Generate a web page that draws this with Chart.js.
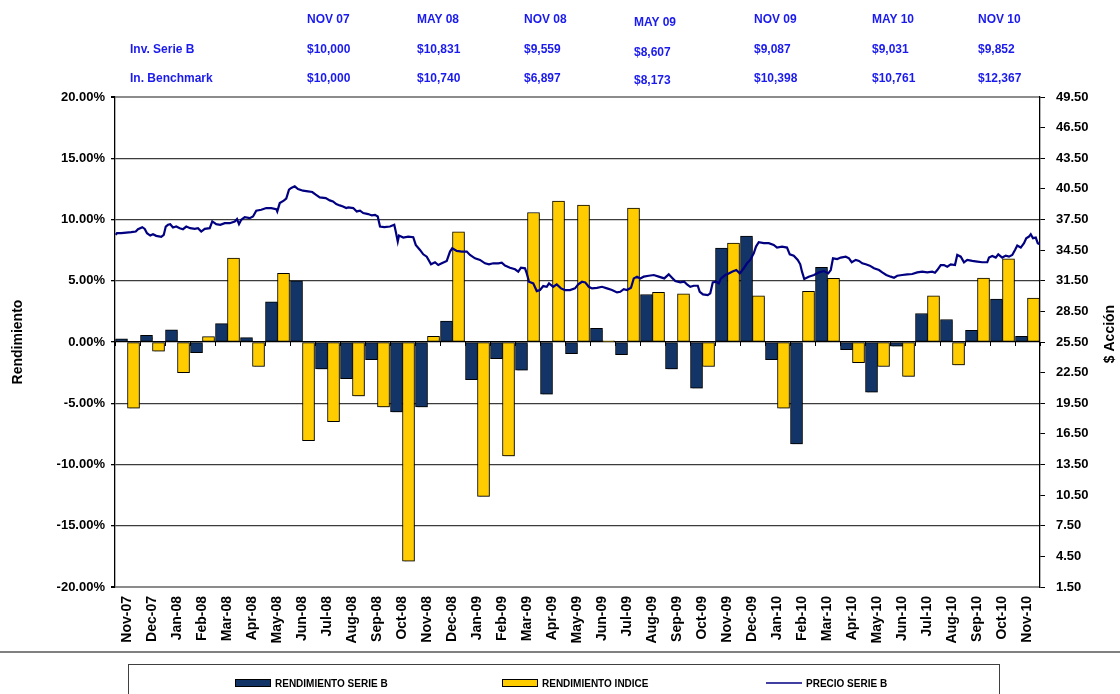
<!DOCTYPE html>
<html>
<head>
<meta charset="utf-8">
<script src="https://cdn.jsdelivr.net/npm/chart.js@4.4.1/dist/chart.umd.min.js"></script>
<style>
  html, body { margin: 0; padding: 0; background: #fff; }
  #wrap { position: relative; width: 1120px; height: 694px; }
  #table div { position: absolute; font: bold 12px "Liberation Sans", Arial, sans-serif; color: #1a1aee; white-space: nowrap; }
</style>
</head>
<body>
<div id="wrap">
  <canvas id="chart" width="1120" height="694"></canvas>
  <div id="table"></div>
</div>
<script>
const months = ["Nov-07", "Dec-07", "Jan-08", "Feb-08", "Mar-08", "Apr-08", "May-08", "Jun-08", "Jul-08", "Aug-08",
  "Sep-08", "Oct-08", "Nov-08", "Dec-08", "Jan-09", "Feb-09", "Mar-09", "Apr-09", "May-09", "Jun-09",
  "Jul-09", "Aug-09", "Sep-09", "Oct-09", "Nov-09", "Dec-09", "Jan-10", "Feb-10", "Mar-10", "Apr-10",
  "May-10", "Jun-10", "Jul-10", "Aug-10", "Sep-10", "Oct-10", "Nov-10"];

// monthly returns, %
const serieB = [0.25, 0.55, 1.0, -0.87, 1.5, 0.36, 3.28, 5.0, -2.2, -3.0,
  -1.44, -5.7, -5.3, 1.7, -3.08, -1.36, -2.3, -4.26, -0.95, 1.12,
  -1.03, 3.88, -2.2, -3.77, 7.66, 8.64, -1.44, -8.33, 6.1, -0.62,
  -4.1, -0.35, 2.33, 1.84, 0.96, 3.5, 0.47];
const indice = [-5.4, -0.74, -2.5, 0.44, 6.86, -2.0, 5.6, -8.06, -6.5, -4.4,
  -5.3, -17.9, 0.47, 9.0, -12.6, -9.3, 10.57, 11.5, 11.18, 0.1,
  10.93, 4.05, 3.93, -2.0, 8.07, 3.77, -5.4, 4.13, 5.2, -1.69,
  -2.0, -2.8, 3.77, -1.88, 5.22, 6.78, 3.58];

// share price, time in months from start of Nov-07
const priceT = [0.03, 0.08, 0.25, 0.45, 0.65, 0.83, 0.92, 1.09, 1.19, 1.28, 1.41, 1.52, 1.65, 1.85, 1.95, 2.03, 2.12, 2.21, 2.32, 2.45,
  2.59, 2.72, 2.85, 3.01, 3.19, 3.32, 3.45, 3.59, 3.79, 3.89, 4.05, 4.21, 4.39, 4.59, 4.79, 4.88, 4.96, 5.05, 5.19, 5.39,
  5.52, 5.65, 5.85, 6.05, 6.25, 6.45, 6.49, 6.59, 6.75, 6.85, 6.96, 7.05, 7.19, 7.32, 7.52, 7.72, 7.89, 8.03, 8.19, 8.43,
  8.59, 8.72, 8.85, 8.99, 9.12, 9.25, 9.33, 9.53, 9.67, 9.8, 9.93, 10.13, 10.27, 10.4, 10.51, 10.6, 10.77, 11.0, 11.17, 11.23,
  11.31, 11.36, 11.53, 11.73, 11.93, 12.03, 12.2, 12.33, 12.47, 12.64, 12.8, 12.93, 13.07, 13.27, 13.4, 13.49, 13.67, 13.87, 14.07, 14.2,
  14.4, 14.6, 14.8, 14.96, 15.13, 15.33, 15.47, 15.6, 15.8, 16.0, 16.13, 16.24, 16.4, 16.47, 16.56, 16.73, 16.87, 17.0, 17.13, 17.27,
  17.36, 17.53, 17.67, 17.84, 18.0, 18.2, 18.4, 18.53, 18.68, 18.81, 18.95, 19.08, 19.28, 19.48, 19.68, 19.88, 20.08, 20.21, 20.35, 20.48,
  20.64, 20.75, 20.88, 21.01, 21.15, 21.35, 21.55, 21.75, 21.97, 22.15, 22.28, 22.41, 22.61, 22.77, 22.88, 23.01, 23.15, 23.31, 23.39, 23.52,
  23.71, 23.81, 23.91, 24.05, 24.15, 24.24, 24.41, 24.55, 24.68, 24.85, 24.99, 25.15, 25.28, 25.41, 25.55, 25.64, 25.75, 25.95, 26.15, 26.35,
  26.48, 26.68, 26.88, 26.99, 27.15, 27.31, 27.41, 27.48, 27.57, 27.75, 27.96, 28.16, 28.36, 28.53, 28.63, 28.72, 28.89, 29.03, 29.23, 29.36,
  29.47, 29.63, 29.76, 29.89, 30.03, 30.19, 30.36, 30.56, 30.69, 30.85, 31.03, 31.16, 31.29, 31.49, 31.69, 31.89, 32.09, 32.29, 32.49, 32.69,
  32.8, 32.89, 33.03, 33.16, 33.29, 33.43, 33.6, 33.69, 33.83, 33.96, 34.09, 34.29, 34.49, 34.69, 34.89, 34.96, 35.09, 35.23, 35.33, 35.49,
  35.63, 35.76, 35.89, 36.0, 36.09, 36.23, 36.36, 36.45, 36.56, 36.63, 36.72, 36.83, 36.91, 36.99];
const priceV = [35.99, 36.16, 36.16, 36.22, 36.26, 36.32, 36.55, 36.75, 36.58, 36.16, 35.93, 36.06, 35.90, 35.80, 35.99, 36.81, 36.98, 37.04, 36.72, 36.81,
  36.65, 36.55, 36.81, 36.65, 36.58, 36.65, 36.32, 36.58, 36.65, 37.31, 37.04, 36.98, 37.14, 37.14, 37.31, 37.54, 37.04, 37.47, 37.73, 37.63,
  37.80, 38.36, 38.45, 38.62, 38.62, 38.52, 38.29, 39.11, 39.34, 39.54, 40.42, 40.59, 40.75, 40.49, 40.32, 40.26, 40.19, 39.93, 39.67, 39.60,
  39.37, 39.27, 39.01, 38.88, 38.78, 38.62, 38.68, 38.62, 38.29, 38.36, 38.13, 38.03, 37.90, 37.96, 37.80, 36.81, 36.75, 36.81, 36.98, 36.32,
  35.34, 35.93, 35.73, 35.83, 35.77, 35.01, 34.52, 34.09, 33.86, 33.11, 33.31, 33.04, 33.21, 33.44, 34.36, 34.68, 34.42, 34.36, 34.36, 34.03,
  33.70, 33.54, 33.21, 33.11, 33.21, 33.21, 33.27, 32.98, 32.78, 32.62, 32.39, 32.78, 32.72, 32.22, 31.40, 31.24, 30.49, 30.59, 30.98, 30.91,
  31.24, 30.91, 31.14, 30.75, 30.59, 30.59, 30.75, 31.14, 31.40, 31.34, 30.91, 30.75, 30.81, 30.91, 30.75, 30.59, 30.36, 30.42, 30.68, 30.59,
  30.81, 31.73, 31.90, 31.73, 31.90, 31.99, 32.06, 31.90, 31.73, 32.13, 31.80, 31.47, 31.34, 31.40, 31.14, 30.91, 31.01, 31.01, 30.42, 30.16,
  30.09, 30.26, 31.34, 31.40, 31.24, 31.73, 32.06, 32.22, 32.39, 32.55, 32.22, 32.72, 33.21, 33.54, 34.19, 34.85, 35.27, 35.18, 35.18, 35.01,
  34.75, 34.85, 34.75, 34.09, 33.96, 33.54, 33.11, 32.39, 31.67, 31.90, 32.06, 32.32, 32.45, 32.22, 32.55, 33.70, 33.63, 33.77, 33.86, 33.70,
  33.31, 33.54, 33.44, 33.21, 33.11, 32.98, 32.72, 32.55, 32.32, 32.06, 31.90, 31.80, 31.99, 32.06, 32.13, 32.16, 32.32, 32.39, 32.32, 32.39,
  32.29, 32.55, 33.04, 33.04, 32.88, 33.11, 33.04, 34.03, 33.86, 33.31, 33.54, 33.44, 33.37, 33.31, 33.31, 33.77, 33.93, 33.77, 34.09, 33.77,
  33.96, 33.86, 34.03, 34.52, 34.95, 34.75, 35.18, 35.67, 35.83, 36.06, 35.67, 35.73, 35.18, 35.08];

// summary table above the chart
const tableDates = ["NOV 07", "MAY 08", "NOV 08", "MAY 09", "NOV 09", "MAY 10", "NOV 10"];
const tableRows = ["Inv. Serie B", "In. Benchmark"];
const invSerieB = ["$10,000", "$10,831", "$9,559", "$8,607", "$9,087", "$9,031", "$9,852"];
const invBenchmark = ["$10,000", "$10,740", "$6,897", "$8,173", "$10,398", "$10,761", "$12,367"];

const FONT = '"Liberation Sans", Arial, sans-serif';

// --- table (html text) ---
const table = document.getElementById("table");
const colX = [307, 417, 524, 634, 754, 872, 978];
const rowY = [12, 42, 71];
function addCell(text, x, y) {
  const d = document.createElement("div");
  d.textContent = text;
  d.style.left = x + "px";
  d.style.top = y + "px";
  table.appendChild(d);
}
tableDates.forEach((t, i) => addCell(t, colX[i], rowY[0] + (i === 3 ? 3 : 0)));
addCell(tableRows[0], 130, rowY[1]);
addCell(tableRows[1], 130, rowY[2]);
invSerieB.forEach((t, i) => addCell(t, colX[i], rowY[1] + (i === 3 ? 3 : 0)));
invBenchmark.forEach((t, i) => addCell(t, colX[i], rowY[2] + (i === 3 ? 2 : 0)));

// bar shadows, zero-line ticks, right title, legend
const extras = {
  id: "extras",
  beforeDatasetDraw(chart, args) {
    if (chart.data.datasets[args.index].type !== "bar") return;
    const ctx = chart.ctx;
    ctx.save();
    ctx.shadowColor = "rgba(0,0,0,0.28)";
    ctx.shadowOffsetX = 2;
    ctx.shadowOffsetY = 2;
    ctx.shadowBlur = 0;
  },
  afterDatasetDraw(chart, args) {
    if (chart.data.datasets[args.index].type !== "bar") return;
    chart.ctx.restore();
  },
  afterDatasetsDraw(chart) {
    const { ctx, chartArea } = chart;
    const y0 = chart.scales.y.getPixelForValue(0);
    const w = chartArea.width / months.length;
    ctx.save();
    ctx.strokeStyle = "#000";
    ctx.lineWidth = 1;
    ctx.beginPath();
    for (let i = 0; i <= months.length; i++) {
      const x = Math.round(chartArea.left + i * w) + 0.5;
      ctx.moveTo(x, y0);
      ctx.lineTo(x, y0 + 4);
    }
    ctx.stroke();
    ctx.restore();
  },
  afterDraw(chart) {
    const { ctx } = chart;
    ctx.save();
    // right axis title
    ctx.fillStyle = "#000";
    ctx.font = "bold 14px " + FONT;
    ctx.textAlign = "center";
    ctx.textBaseline = "middle";
    ctx.translate(1110, 334);
    ctx.rotate(-Math.PI / 2);
    ctx.fillText("$ Acción", 0, 0);
    ctx.restore();

    // separator under the labels
    ctx.save();
    ctx.strokeStyle = "#808080";
    ctx.lineWidth = 2;
    ctx.beginPath();
    ctx.moveTo(0, 652);
    ctx.lineTo(1120, 652);
    ctx.stroke();

    // legend box: bars first, then the line
    ctx.strokeStyle = "#404040";
    ctx.lineWidth = 1;
    ctx.strokeRect(128.5, 664.5, 871, 40);
    const items = chart.data.datasets.filter((d) => d.type === "bar")
      .concat(chart.data.datasets.filter((d) => d.type === "line"));
    const itemX = [235, 502, 766];
    const ly = 683;
    ctx.font = "bold 10px " + FONT;
    ctx.textAlign = "left";
    ctx.textBaseline = "middle";
    items.forEach((ds, i) => {
      const x = itemX[i];
      if (ds.type === "bar") {
        ctx.fillStyle = ds.backgroundColor;
        ctx.fillRect(x, ly - 4, 36, 8);
        ctx.strokeStyle = "#000";
        ctx.strokeRect(x + 0.5, ly - 3.5, 35, 7);
      } else {
        ctx.strokeStyle = ds.borderColor;
        ctx.lineWidth = 1.5;
        ctx.beginPath();
        ctx.moveTo(x, ly);
        ctx.lineTo(x + 36, ly);
        ctx.stroke();
      }
      ctx.fillStyle = "#000";
      ctx.fillText(ds.label, x + 40, ly + 1);
    });
    ctx.restore();
  }
};

const gridColor = (c) => {
  const v = c.tick.value;
  if (v === 0) return "#000";
  if (v === 20 || v === -20) return "#8c8c8c";
  return "#3c3c3c";
};

new Chart(document.getElementById("chart"), {
  data: {
    labels: months,
    datasets: [
      // line listed first so the two bar series sit side by side in each month
      {
        type: "line",
        label: "PRECIO SERIE B",
        data: priceT.map((t, i) => ({ x: t, y: priceV[i] })),
        borderColor: "#000080",
        borderWidth: 2.2,
        pointRadius: 0,
        tension: 0,
        xAxisID: "xLine",
        yAxisID: "y1",
        order: 1,
      },
      {
        type: "bar",
        label: "RENDIMIENTO SERIE B",
        data: serieB,
        backgroundColor: "#123466",
        borderColor: "#000",
        borderWidth: 1,
        borderSkipped: false,
        barThickness: 12,
        xAxisID: "x",
        yAxisID: "y",
        order: 2,
      },
      {
        type: "bar",
        label: "RENDIMIENTO INDICE",
        data: indice,
        backgroundColor: "#ffcc00",
        borderColor: "#000",
        borderWidth: 1,
        borderSkipped: false,
        barThickness: 12,
        xAxisID: "x",
        yAxisID: "y",
        order: 2,
      },
    ],
  },
  options: {
    responsive: false,
    animation: false,
    events: [],
    layout: { padding: { top: 97, bottom: 42, left: 0, right: 0 } },
    plugins: {
      legend: { display: false },
      tooltip: { enabled: false },
    },
    scales: {
      x: {
        type: "category",
        position: "bottom",
        offset: true,
        grid: { display: false, drawTicks: false },
        border: { display: false },
        ticks: {
          autoSkip: false,
          minRotation: 90,
          maxRotation: 90,
          padding: 9,
          color: "#000",
          font: { family: FONT, size: 14, weight: "bold" },
        },
        afterFit: (s) => { s.height = 65; },
      },
      xLine: {
        type: "linear",
        display: false,
        min: 0,
        max: 37,
      },
      y: {
        position: "left",
        min: -20,
        max: 20,
        ticks: {
          stepSize: 5,
          padding: 6,
          color: "#000",
          font: { family: FONT, size: 13, weight: "bold" },
          callback: (v) => v.toFixed(2) + "%",
        },
        grid: {
          color: gridColor,
          lineWidth: (c) => (c.tick.value === 20 || c.tick.value === -20 ? 2 : 1.3),
          tickLength: 4,
          tickColor: "#000",
        },
        border: { color: "#000", width: 1.3 },
        title: {
          display: true,
          text: "Rendimiento",
          color: "#000",
          font: { family: FONT, size: 14, weight: "bold" },
          padding: { top: 10 },
        },
        afterFit: (s) => { s.width = 115; },
      },
      y1: {
        position: "right",
        min: 1.5,
        max: 49.5,
        ticks: {
          stepSize: 3,
          padding: 11,
          color: "#000",
          font: { family: FONT, size: 13, weight: "bold" },
          callback: (v) => v.toFixed(2),
        },
        grid: { drawOnChartArea: false, tickLength: 5, tickColor: "#000" },
        border: { color: "#000", width: 1.3 },
        afterFit: (s) => { s.width = 80; },
      },
    },
  },
  plugins: [extras],
});
</script>
</body>
</html>
